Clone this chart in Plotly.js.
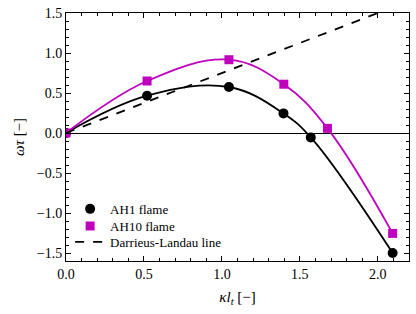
<!DOCTYPE html>
<html>
<head>
<meta charset="utf-8">
<script src="https://cdn.plot.ly/plotly-3.0.1.min.js"></script>
<style>html,body{margin:0;padding:0;background:#fff;}#chart{width:416px;height:314px;}</style>
</head>
<body>
<div id="chart"></div>
<script>
// Data
const kappaAH1 = [0.0, 0.52, 1.045, 1.395, 1.57, 2.095];
const omegaAH1 = [0.0, 0.466, 0.575, 0.245, -0.055, -1.5];
const kappaAH10 = [0.0, 0.52, 1.045, 1.397, 1.677, 2.095];
const omegaAH10 = [0.0, 0.65, 0.916, 0.61, 0.058, -1.255];
const dlKappa = [0.0, 2.2];
const dlOmega = [0.0, 1.65];
const names = ["AH1 flame", "AH10 flame", "Darrieus-Landau line"];

const black = "#000000";
const magenta = "#bf00bf";
const serif = "Liberation Serif, Times New Roman, serif";

const traces = [
  {x: kappaAH1, y: omegaAH1, mode: "lines", line: {color: black, width: 1.8, shape: "spline", smoothing: 1.1}, showlegend: false, hoverinfo: "skip"},
  {x: kappaAH10, y: omegaAH10, mode: "lines", line: {color: magenta, width: 1.8, shape: "spline", smoothing: 1.1}, showlegend: false, hoverinfo: "skip"},
  {x: kappaAH1, y: omegaAH1, mode: "markers", name: names[0], legend: "legend", marker: {symbol: "circle", size: 10, color: black}},
  {x: kappaAH10, y: omegaAH10, mode: "markers", name: names[1], legend: "legend2", marker: {symbol: "square", size: 9, color: magenta}},
  {x: dlKappa, y: dlOmega, mode: "lines", name: names[2], legend: "legend3", line: {color: black, width: 1.8, dash: "dash"}}
];

const axisCommon = {
  showline: true, linecolor: black, linewidth: 1, mirror: "allticks",
  ticks: "inside", ticklen: 5, tickwidth: 1, tickcolor: black,
  showgrid: false, tickfont: {family: serif, size: 14, color: black},
  tickformat: ".1f"
};

const legendCommon = {
  x: 0.012, xanchor: "left", yanchor: "middle", bgcolor: "rgba(255,255,255,0)",
  font: {family: serif, size: 13, color: black}, borderwidth: 0
};

const layout = {
  width: 416, height: 314,
  margin: {l: 66, r: 7, t: 13, b: 53},
  paper_bgcolor: "#fff", plot_bgcolor: "#fff",
  font: {family: serif, color: black},
  xaxis: Object.assign({}, axisCommon, {
    range: [0, 2.2], dtick: 0.5, tick0: 0, zeroline: false,
    minor: {ticks: "inside", ticklen: 3, dtick: 0.1, tickcolor: black, showgrid: false},
    title: {text: "<i>κl</i><sub><i>t</i></sub> [−]", font: {family: serif, size: 15, color: black}, standoff: 10}
  }),
  yaxis: Object.assign({}, axisCommon, {
    range: [-1.6, 1.5], dtick: 0.5, tick0: 0,
    zeroline: true, zerolinecolor: black, zerolinewidth: 1,
    minor: {ticks: "inside", ticklen: 3, dtick: 0.1, tickcolor: black, showgrid: false},
    title: {text: "<i>ωτ</i> [−]", font: {family: serif, size: 15, color: black}, standoff: 8}
  }),
  legend: Object.assign({}, legendCommon, {y: 0.21}),
  legend2: Object.assign({}, legendCommon, {y: 0.141}),
  legend3: Object.assign({}, legendCommon, {y: 0.077}),
  showlegend: true
};

Plotly.newPlot("chart", traces, layout, {displayModeBar: false, staticPlot: true});
</script>
</body>
</html>
